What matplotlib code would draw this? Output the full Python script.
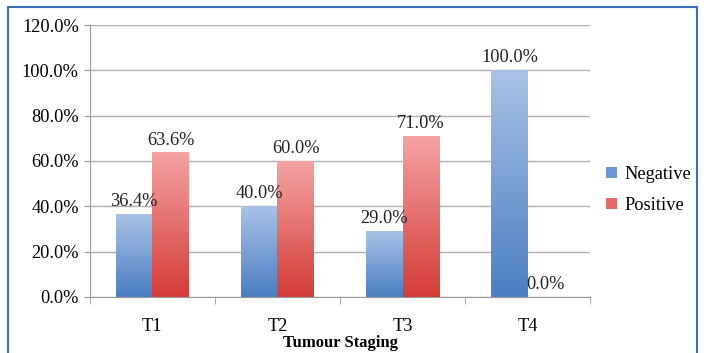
import matplotlib
matplotlib.use("Agg")
import matplotlib.pyplot as plt
import numpy as np
from matplotlib.colors import LinearSegmentedColormap
from matplotlib.patches import Rectangle, Patch

categories = ["T1", "T2", "T3", "T4"]
negative = [36.4, 40.0, 29.0, 100.0]
positive = [63.6, 60.0, 71.0, 0.0]
yticks = [0, 20, 40, 60, 80, 100, 120]

serif = ["Liberation Serif", "DejaVu Serif"]

fig = plt.figure(figsize=(7.07, 3.53), dpi=100)
ax = fig.add_axes([0.127, 0.159, 0.708, 0.770])

neg_cmap = LinearSegmentedColormap.from_list("neg", ["#4a7ec2", "#a9c3e6"])
pos_cmap = LinearSegmentedColormap.from_list("pos", ["#d33c36", "#f5a3a3"])

x = np.arange(len(categories))
w = 0.29
grad = np.linspace(0, 1, 256).reshape(-1, 1)
for i in range(len(categories)):
    for val, off, cmap in [(negative[i], -w / 2, neg_cmap), (positive[i], w / 2, pos_cmap)]:
        x0 = x[i] + off - w / 2
        if val > 0:
            ax.imshow(grad, extent=[x0, x0 + w, 0, val], origin="lower", cmap=cmap,
                      aspect="auto", zorder=2)
        ax.text(x[i] + off, val + 1.8, f"{val:.1f}%", ha="center", va="bottom",
                fontsize=13.2, family=serif, color="#222222", zorder=3)

ax.set_xlim(-0.5, len(categories) - 0.5)
ax.set_ylim(0, 120)
ax.set_yticks(yticks)
ax.set_yticklabels([f"{v:.1f}%" for v in yticks], family=serif, fontsize=13.2)
ax.set_xticks(x)
ax.set_xticklabels(categories, family=serif, fontsize=13.2)
ax.set_xticks(np.arange(-0.5, len(categories)), minor=True)
ax.tick_params(axis="x", which="major", length=0, pad=15)
ax.tick_params(axis="x", which="minor", length=5, color="#999999")
ax.tick_params(axis="y", length=4, color="#999999", pad=4)
ax.yaxis.grid(True, color="#b0b0b0", linewidth=1)
ax.set_axisbelow(True)
for s in ["top", "right"]:
    ax.spines[s].set_visible(False)
ax.spines["left"].set_color("#999999")
ax.spines["bottom"].set_color("#999999")
ax.set_xlabel("Tumour Staging", family=serif, fontsize=12, fontweight="bold")
ax.xaxis.set_label_coords(0.5, -0.14)

handles = [Patch(facecolor="#6f97d3", label="Negative"), Patch(facecolor="#e56a68", label="Positive")]
fig.legend(handles=handles, loc="center left", bbox_to_anchor=(0.857, 0.462), frameon=False,
           prop={"family": serif, "size": 13.2}, handlelength=0.6, handleheight=0.6,
           handletextpad=0.4, labelspacing=0.75, borderpad=0, borderaxespad=0)

fig.patches.append(Rectangle((8 / 707, -0.05), (697 - 8) / 707, 1 - 7 / 353 + 0.05,
                             transform=fig.transFigure, fill=False, edgecolor="#3b6fc4",
                             linewidth=1.5))

fig.savefig("out.png", dpi=100)
